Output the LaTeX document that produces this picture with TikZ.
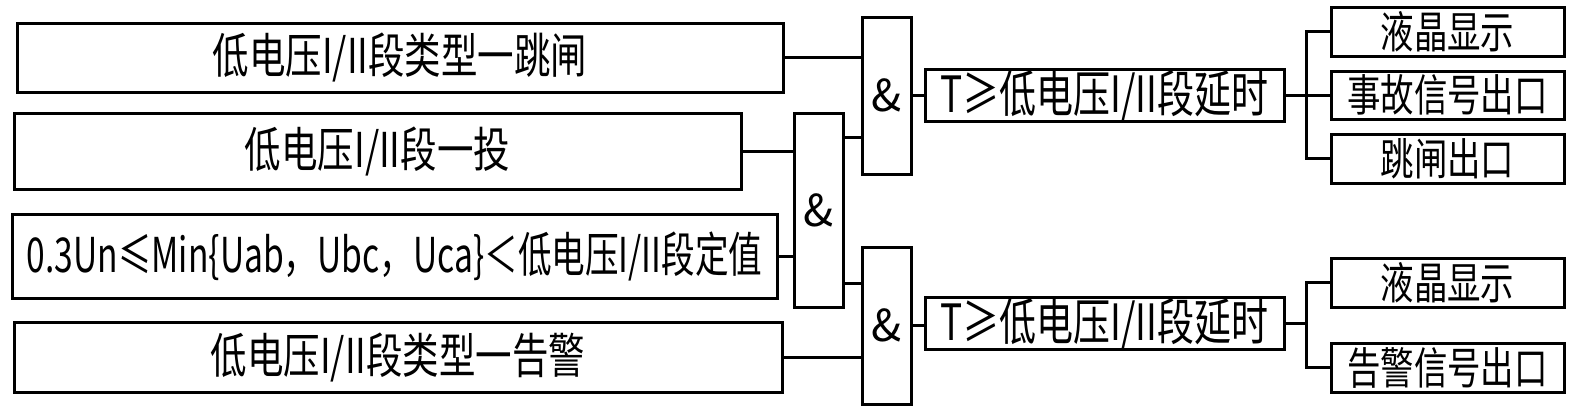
\documentclass[tikz,border=0pt]{standalone}
\usepackage{fontspec}
\newfontfamily\cjk[FakeStretch=0.76]{Noto Sans CJK SC}
\newfontfamily\cjkn[FakeStretch=0.70]{Noto Sans CJK SC}
\newfontfamily\cjkt[FakeStretch=0.74]{Noto Sans CJK SC}
\newfontfamily\amp{Noto Sans CJK SC}
\begin{document}
\begin{tikzpicture}[x=0.5pt,y=-0.5pt,
  every path/.style={line width=1.5pt},
  blk/.style={draw, line width=1.5pt, inner sep=0pt, font=\cjk\fontsize{24}{24}\selectfont},
  narrowtxt/.style={font=\cjkn\fontsize{24}{24}\selectfont},
  timertxt/.style={font=\cjkt\fontsize{25}{25}\selectfont},
  outtxt/.style={font=\cjk\fontsize{22}{22}\selectfont},
  gate/.style={draw, line width=1.5pt, inner sep=0pt, minimum width=24.5pt, font=\amp\fontsize{22}{22}\selectfont},
  wire/.style={line width=1.5pt}]
\useasboundingbox (0,0) rectangle (1587,412);
% left condition boxes
\node[blk, minimum width=383pt, minimum height=34.5pt] (b1) at (400,57.5) {低电压I/II段类型一跳闸};
\node[blk, minimum width=363.5pt, minimum height=38pt] (b2) at (377.5,151) {低电压I/II段一投};
\node[blk, narrowtxt, minimum width=382.5pt, minimum height=42pt] (b3) at (394.5,256) {0.3Un≤Min\{Uab，Ubc，Uca\}＜低电压I/II段定值};
\node[blk, minimum width=384pt, minimum height=35pt] (b4) at (398,357) {低电压I/II段类型一告警};
% AND gates
\node[gate, minimum height=97pt] (gA) at (818.5,210) {\&};
\node[gate, minimum height=78.5pt] (gB) at (886.5,95.5) {\&};
\node[gate, minimum height=78.5pt] (gC) at (886.5,325.5) {\&};
% timers
\node[blk, timertxt, minimum width=179.5pt, minimum height=22.5pt] (t1) at (1104.5,95.5) {T≥低电压I/II段延时};
\node[blk, timertxt, minimum width=179.5pt, minimum height=22.5pt] (t2) at (1104.5,323.5) {T≥低电压I/II段延时};
% outputs
\node[blk, outtxt, minimum width=116.5pt, minimum height=24.5pt] (r1) at (1447.5,31.5) {液晶显示};
\node[blk, outtxt, minimum width=116.5pt, minimum height=24pt] (r2) at (1447.5,95) {事故信号出口};
\node[blk, outtxt, minimum width=116.5pt, minimum height=24.5pt] (r3) at (1447.5,158.5) {跳闸出口};
\node[blk, outtxt, minimum width=116.5pt, minimum height=24.5pt] (r4) at (1447.5,282.5) {液晶显示};
\node[blk, outtxt, minimum width=116.5pt, minimum height=24.5pt] (r5) at (1447.5,367.5) {告警信号出口};
% helper coordinates
\coordinate (a1) at (830,137);
\coordinate (a2) at (830,283);
\coordinate (j1) at (1306,95);
\coordinate (j2) at (1306,326);
% wires
\draw[wire] (b1.east) -- (b1.east -| gB.west);
\draw[wire] (b2.east) -- (b2.east -| gA.west);
\draw[wire] (b3.east) -- (b3.east -| gA.west);
\draw[wire] (b4.east) -- (b4.east -| gC.west);
\draw[wire] (gA.east |- a1) -- (gB.west |- a1);
\draw[wire] (gA.east |- a2) -- (gC.west |- a2);
\draw[wire] (gB.east) -- (gB.east -| t1.west);
\draw[wire] (gC.east) -- (gC.east -| t2.west);
\draw[wire] (t1.east) -- (t1.east -| r2.west);
\draw[wire] (r1.west) -- (r1.west -| j1) -- (r3.west -| j1) -- (r3.west);
\draw[wire] (t2.east) -- (t2.east -| j2);
\draw[wire] (r4.west) -- (r4.west -| j2) -- (r5.west -| j2) -- (r5.west);
\end{tikzpicture}
\end{document}
